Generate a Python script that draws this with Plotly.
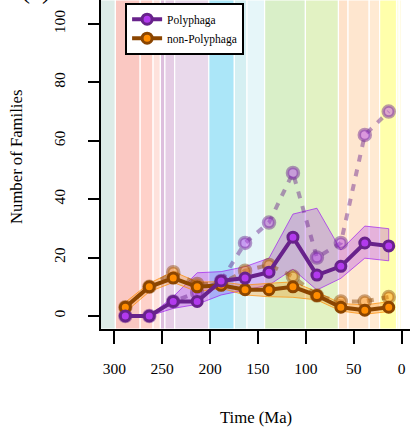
import plotly.graph_objects as go

# Time-bin midpoints (Ma)
time_ma = [288.5, 263.5, 238.5, 213.5, 188.5, 163.5, 138.5, 113.5, 88.5, 63.5, 38.5, 13.5]

# Corrected family counts with confidence band
poly = [0, 0, 5, 5, 12, 13, 15, 27, 14, 17, 25, 24]
poly_lo = [None, 0, 2.6, 4, 7.2, 8.9, 10.6, 16, 8.9, 12.9, 19.8, 18.9]
poly_hi = [None, 0, 6.6, 14.8, 15.2, 16.9, 19.8, 34.9, 36.9, 22.6, 30.8, 29.9]

nonpoly = [3, 10, 13, 10, 10.5, 9, 9, 10, 7, 3, 2, 3]
nonpoly_lo = [1.3, 8.3, 11.5, 8.3, 9.5, 7.2, 6.6, 6.4, 5.5, 1.7, 0.6, 1.5]
nonpoly_hi = [4.7, 11.2, 15.2, 11.7, 11.7, 10.6, 11.2, 11.7, 8.3, 4.3, 3.8, 4.9]

# Raw (uncorrected) counts
poly_raw = [0, 0, 5, 8, 12, 25, 32, 49, 20, 25, 62, 70]
nonpoly_raw = [3, 10, 15, 11, 11, 15.5, 17.5, 13.5, 7, 5, 5, 6.5]

# Geological time scale intervals (start Ma, end Ma, ICS colour)
period_start = [330, 298.9, 273.01, 259.51, 251.902, 247.2, 237, 201.36, 174.7, 161.5,
                143.1, 100.5, 66, 56, 33.9, 23.03, 5.333, 2.58]
period_end = [298.9, 273.01, 259.51, 251.902, 247.2, 237, 201.36, 174.7, 161.5, 143.1,
              100.5, 66, 56, 33.9, 23.03, 5.333, 2.58, 0.0117]
period_color = ["#99C2B5", "#EF5845", "#FB745C", "#FBA794", "#983999", "#B168B1", "#BD8CC3",
                "#00B4EB", "#80CFD8", "#B3E3EE", "#8CCD57", "#A6D84A", "#FDA75F", "#FDB46C",
                "#FEC07A", "#FFFF00", "#FFFF99", "#FFF2AE"]

x_ticks = [300, 250, 200, 150, 100, 50, 0]
y_ticks = [0, 20, 40, 60, 80, 100]

FONT = "Liberation Serif, Times New Roman, serif"
P_LINE, P_FILL = "#68228B", "#B23AEE"
O_LINE, O_FILL = "#8B4500", "#FF8C00"


def rgba(hexcol, a):
    h = hexcol.lstrip("#")
    r, g, b = int(h[0:2], 16), int(h[2:4], 16), int(h[4:6], 16)
    return f"rgba({r},{g},{b},{a})"


def band(xs, lo, hi):
    pts = [(x, l, h) for x, l, h in zip(xs, lo, hi) if l is not None]
    bx = [p[0] for p in pts] + [p[0] for p in reversed(pts)]
    by = [p[2] for p in pts] + [p[1] for p in reversed(pts)]
    return bx, by


fig = go.Figure()

# Confidence ribbons
bx, by = band(time_ma, poly_lo, poly_hi)
fig.add_trace(go.Scatter(x=bx, y=by, fill="toself", mode="lines",
                         fillcolor=rgba("#A020F0", 0.28),
                         line=dict(color=rgba("#A020F0", 0.7), width=1),
                         showlegend=False, hoverinfo="skip"))
bx, by = band(time_ma, nonpoly_lo, nonpoly_hi)
fig.add_trace(go.Scatter(x=bx, y=by, fill="toself", mode="lines",
                         fillcolor=rgba("#FF8C00", 0.3),
                         line=dict(color=rgba("#FF8C00", 0.7), width=1),
                         showlegend=False, hoverinfo="skip"))

# Raw counts (dashed, translucent)
for vals, lc, fc in [(poly_raw, P_LINE, P_FILL), (nonpoly_raw, O_LINE, O_FILL)]:
    fig.add_trace(go.Scatter(x=time_ma, y=vals, mode="lines+markers",
                             line=dict(color=rgba(lc, 0.45), width=4, dash="7px,8px"),
                             marker=dict(size=11, color=rgba(fc, 0.45),
                                         line=dict(color=rgba(lc, 0.45), width=3.5)),
                             showlegend=False, hoverinfo="skip"))

# Corrected counts
fig.add_trace(go.Scatter(x=time_ma, y=nonpoly, mode="lines+markers", name="non-Polyphaga",
                         line=dict(color=O_LINE, width=4),
                         marker=dict(size=10, color=O_FILL, line=dict(color=O_LINE, width=3)),
                         legendrank=2))
fig.add_trace(go.Scatter(x=time_ma, y=poly, mode="lines+markers", name="Polyphaga",
                         line=dict(color=P_LINE, width=4),
                         marker=dict(size=10, color=P_FILL, line=dict(color=P_LINE, width=3)),
                         legendrank=1))

shapes = []
for s, e, c in zip(period_start, period_end, period_color):
    shapes.append(dict(type="rect", xref="x", yref="paper", x0=s, x1=e, y0=0, y1=1,
                       fillcolor=rgba(c, 0.33), line=dict(color="white", width=1.2),
                       layer="below"))

fig.update_layout(
    width=410, height=428,
    margin=dict(l=101, r=0, t=0, b=99),
    paper_bgcolor="white", plot_bgcolor="white",
    font=dict(family=FONT, color="black", size=15.5),
    shapes=shapes,
    showlegend=True,
    legend=dict(x=0.078, y=0.992, xanchor="left", yanchor="top",
                bgcolor="white", bordercolor="black", borderwidth=2,
                font=dict(size=11.5, family=FONT), itemwidth=30,
                tracegroupgap=0),
    xaxis=dict(range=[313.9, -8.7], tickvals=x_ticks, ticks="outside", ticklen=13,
               tickwidth=2, tickcolor="black", showline=True, linecolor="black",
               linewidth=1.5, showgrid=False, zeroline=False,
               ticklabelstandoff=12, tickfont=dict(size=15.5)),
    yaxis=dict(range=[-4.45, 108.2], tickvals=y_ticks, ticks="outside", ticklen=11,
               tickwidth=2, tickcolor="black", showline=True, linecolor="black",
               linewidth=1.5, showgrid=False, zeroline=False, tickangle=-90,
               ticklabelstandoff=17, tickfont=dict(size=15.5)),
    annotations=[
        dict(text="Time (Ma)", xref="paper", yref="paper", x=0.5, y=-89 / 329,
             xanchor="center", yanchor="middle", showarrow=False,
             font=dict(size=16.7, family=FONT)),
        dict(text="Number of Families", xref="paper", yref="paper", x=-85 / 309,
             y=1 - 157 / 329, xanchor="center", yanchor="middle", textangle=-90,
             showarrow=False, font=dict(size=16.7, family=FONT)),
        dict(text="(a)", xref="paper", yref="paper", x=-65 / 309, y=1 - 6 / 329,
             xanchor="center", yanchor="bottom", showarrow=False,
             font=dict(size=27, family=FONT)),
    ],
)

fig.write_html("out.html")
